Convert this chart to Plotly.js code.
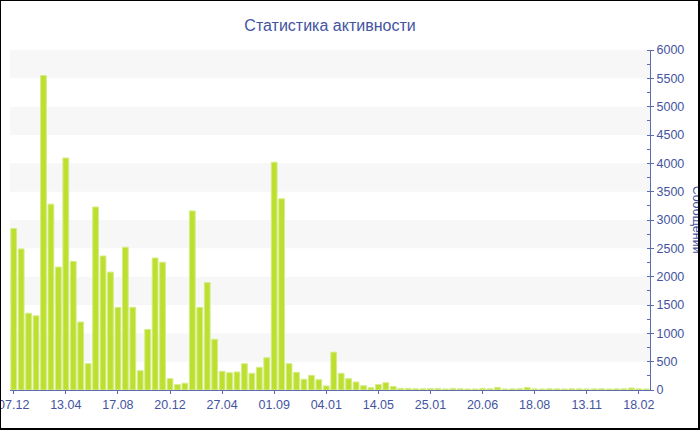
<!DOCTYPE html>
<html>
<head>
<meta charset="utf-8">
<script src="https://cdn.plot.ly/plotly-3.0.1.min.js"></script>
<style>
  html, body { margin: 0; padding: 0; background: #fff; }
  #wrap { position: relative; width: 700px; height: 430px; overflow: hidden; }
  #chart { width: 700px; height: 430px; }
  #frame { position: absolute; left: 0; top: 0; width: 700px; height: 430px; box-sizing: border-box;
           border-left: 1px solid #000; border-top: 1px solid #000; border-right: 2px solid #000; border-bottom: 2px solid #000;
           pointer-events: none; }
</style>
</head>
<body>
<div id="wrap"><div id="chart"></div><div id="frame"></div></div>
<script>
// Message counts per period (categorical, irregular dates)
const messageCounts = [
  2850, 2490, 1355, 1310, 5550, 3280, 2170, 4095, 2270, 1200,
  465, 3230, 2365, 2080, 1460, 2520, 1460, 340, 1070, 2330,
  2255, 200, 95, 120, 3160, 1460, 1895, 895, 330, 305,
  318, 465, 295, 400, 570, 4020, 3375, 465, 312, 190,
  260, 182, 72, 668, 294, 200, 141, 76, 41, 97,
  129, 62, 29, 29, 22, 22, 26, 28, 18, 28,
  22, 18, 18, 28, 22, 45, 18, 20, 22, 45,
  20, 18, 22, 20, 18, 22, 20, 18, 20, 22,
  18, 20, 22, 35, 20, 18
];
// Tick labels shown every 7th bar
const tickLabels = ["07.12", "13.04", "17.08", "20.12", "27.04", "01.09", "04.01",
                    "14.05", "25.01", "20.06", "18.08", "13.11", "18.02"];
const tickStep = 7;
const chartTitle = "Статистика активности";
const yTitle = "Сообщений";

const barIndex = messageCounts.map((_, i) => i);
const tickPositions = tickLabels.map((_, i) => i * tickStep);

const textColor = "#4354a0";
const axisColor = "#5d6cae";
const fontFamily = "Liberation Sans, Arial, sans-serif";

// alternating background bands
const bands = [];
for (let y = 500; y < 6000; y += 1000) {
  bands.push({type: "rect", xref: "paper", yref: "y", x0: 0, x1: 1, y0: y, y1: y + 500,
              fillcolor: "#f7f7f7", line: {width: 0}, layer: "below"});
}

const trace = {
  type: "bar",
  x: barIndex,
  y: messageCounts,
  marker: {color: "#bde030", line: {color: "#d6ec8a", width: 1}},
  hoverinfo: "y"
};

const layout = {
  width: 700, height: 430,
  margin: {l: 10, r: 50, t: 50, b: 40},
  paper_bgcolor: "#fff", plot_bgcolor: "rgba(0,0,0,0)",
  font: {family: fontFamily, size: 12, color: textColor},
  title: {text: chartTitle, x: 0.5, xref: "paper", xanchor: "center", y: 0.94, yanchor: "middle",
          font: {family: fontFamily, size: 16, color: textColor}},
  showlegend: false,
  bargap: 0.22,
  xaxis: {
    range: [-0.5, messageCounts.length - 0.5],
    tickmode: "array", tickvals: tickPositions, ticktext: tickLabels,
    ticklabeloverflow: "allow",
    showgrid: false, zeroline: false,
    showline: true, linecolor: axisColor, linewidth: 1,
    ticks: "outside", ticklen: 3, tickcolor: axisColor,
    tickfont: {family: fontFamily, size: 12.5, color: textColor}
  },
  yaxis: {
    side: "right", range: [0, 6000], dtick: 500, tick0: 0,
    showgrid: false, zeroline: false,
    showline: true, linecolor: axisColor, linewidth: 1,
    ticks: "outside", ticklen: 3, tickcolor: axisColor,
    minor: {dtick: 250, ticks: "inside", ticklen: 3, tickcolor: axisColor},
    tickfont: {family: fontFamily, size: 12.5, color: textColor}
  },
  shapes: bands,
  annotations: [{
    text: yTitle, textangle: 90, xref: "paper", yref: "paper",
    x: 1.074, y: 0.5, xanchor: "center", yanchor: "middle", showarrow: false,
    font: {family: fontFamily, size: 12.5, color: textColor}
  }]
};

Plotly.newPlot("chart", [trace], layout, {displayModeBar: false, staticPlot: true});
</script>
</body>
</html>
